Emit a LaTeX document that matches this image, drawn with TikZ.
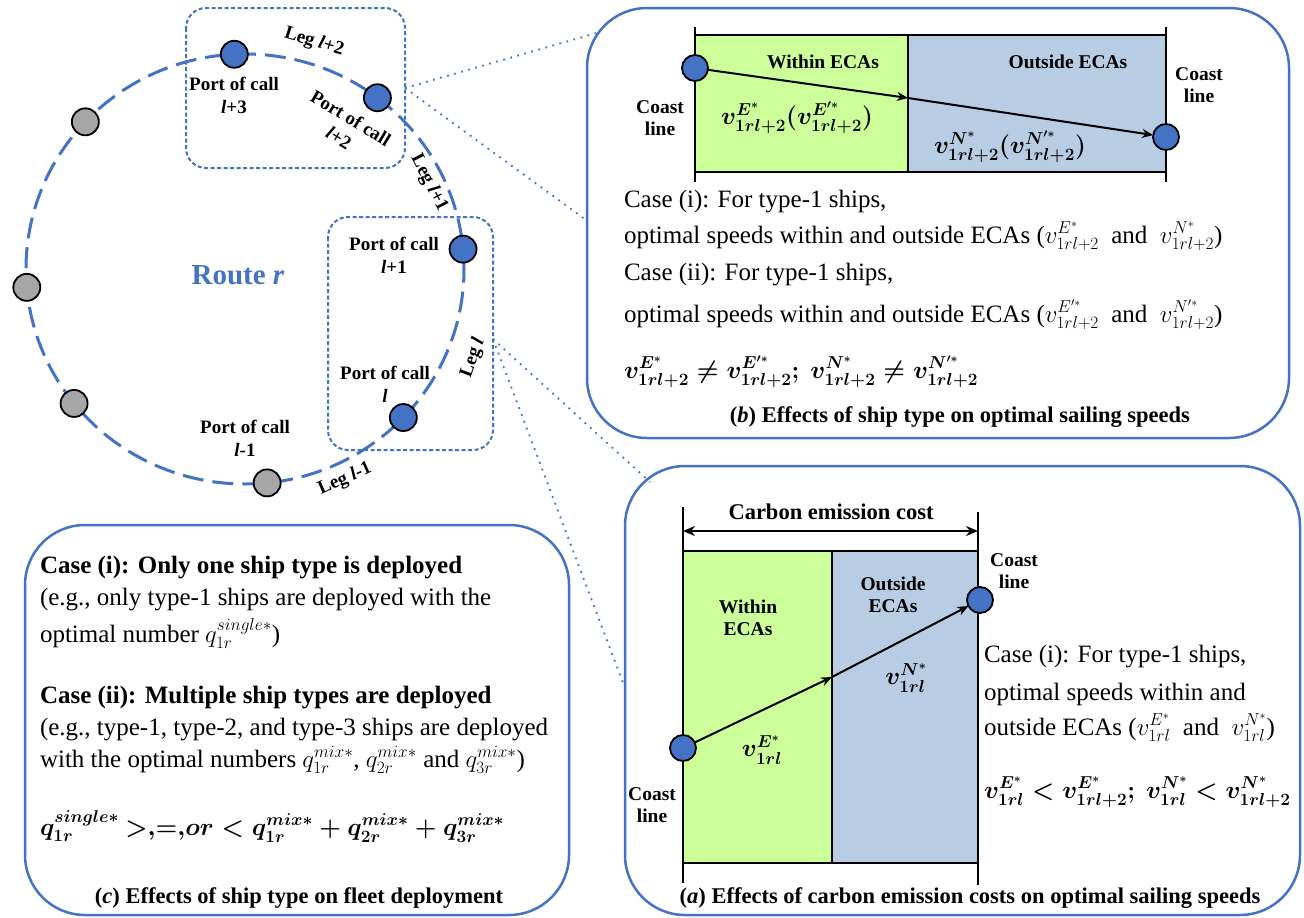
\documentclass[tikz,border=0pt]{standalone}
\usepackage{fontspec}
\setmainfont{Liberation Serif}
\usepackage{amsmath}
\usetikzlibrary{arrows.meta}

\definecolor{routeblue}{RGB}{68,114,196}
\definecolor{portgrey}{RGB}{166,166,166}
\definecolor{ecagreen}{RGB}{204,255,153}
\definecolor{ecablue}{RGB}{184,204,228}

\begin{document}
\begin{tikzpicture}[x=1pt,y=-1pt,
  every node/.style={inner sep=0pt,outer sep=0pt},
  routeline/.style={draw=routeblue,line width=3pt,dash pattern=on 21pt off 9pt},
  bluestop/.style={circle,draw=black,line width=1.8pt,fill=routeblue,minimum size=27pt},
  greystop/.style={bluestop,fill=portgrey},
  stoplbl/.style={font=\fontsize{19}{23}\selectfont\bfseries,align=center},
  routelbl/.style={font=\fontsize{29}{34}\selectfont\bfseries,text=routeblue},
  zoombox/.style={draw=routeblue,line width=2pt,dash pattern=on 4pt off 2.5pt,rounded corners=20pt},
  zoomlink/.style={draw=routeblue,line width=1.8pt,dash pattern=on 1.8pt off 5.5pt},
  panelbox/.style={draw=routeblue,line width=2.5pt,rounded corners=60pt},
  stripline/.style={draw=black,line width=2pt},
  coastpt/.style={circle,draw=black,line width=1.8pt,fill=routeblue,minimum size=26pt},
  flowarrow/.style={draw=black,line width=2pt,-{Stealth[length=11pt,width=9pt]}},
  spanarrow/.style={draw=black,line width=2pt,{Stealth[length=12pt,width=10pt]}-{Stealth[length=12pt,width=10pt]}},
  zonelbl/.style={font=\fontsize{19.5}{22}\selectfont\bfseries,align=center},
  costlbl/.style={font=\fontsize{22.5}{26}\selectfont\bfseries},
  bodytxt/.style={font=\fontsize{25}{30}\selectfont,anchor=base west},
  bodybold/.style={font=\fontsize{25}{30}\selectfont\bfseries,anchor=base west},
  captxt/.style={font=\fontsize{22.5}{27}\selectfont\bfseries,anchor=base},
  speedlbl/.style={font=\fontsize{25}{29}\selectfont}
]
\fill[white] (0,0) rectangle (1304,918);
\useasboundingbox (0,0) rectangle (1304,918);

% ---------------- route r with its ports of call ----------------
\draw[zoombox] (186,8) rectangle (405,168);
\draw[zoombox] (328,217) rectangle (493,450);

\draw[routeline] (245,269) ellipse [x radius=219pt, y radius=215pt];

\node[greystop] (g1) at ({245+219*cos(136.8)},{269-215*sin(136.8)}) {};
\node[greystop] (g2) at ({245+219*cos(184.9)},{269-215*sin(184.9)}) {};
\node[greystop] (g3) at ({245+219*cos(218.7)},{269-215*sin(218.7)}) {};
\node[greystop] (g4) at ({245+219*cos(-84.2)},{269-215*sin(-84.2)}) {};
\node[bluestop] (p0) at ({245+219*cos(-43.7)},{269-215*sin(-43.7)}) {};
\node[bluestop] (p1) at ({245+219*cos(5.3)},{269-215*sin(5.3)}) {};
\node[bluestop] (p2) at ({245+219*cos(52.8)},{269-215*sin(52.8)}) {};
\node[bluestop] (p3) at ({245+219*cos(92.8)},{269-215*sin(92.8)}) {};

\node[stoplbl] (lp3) at (234,95) {Port of call\\\textit{l}+3};
\node[stoplbl,rotate=-31] (lp2) at (345,128) {Port of call\\\textit{l}+2};
\node[stoplbl] (lp1) at (394,255) {Port of call\\\textit{l}+1};
\node[stoplbl] (lp0) at (385,384) {Port of call\\\textit{l}};
\node[stoplbl] (lpm) at (245,438) {Port of call\\\textit{l}-1};
\node[stoplbl,rotate=-17] (lg2) at (314,42) {Leg \textit{l}+2};
\node[stoplbl,rotate=-63] (lg1) at (429,183) {Leg \textit{l}+1};
\node[stoplbl,rotate=70] (lg0) at (473,358) {Leg \textit{l}};
\node[stoplbl,rotate=24] (lgm) at (345,479) {Leg \textit{l}-1};
\node[routelbl] (rt) at (238,275) {Route \textit{r}};

% ---------------- links from the legs to the panels ----------------
\coordinate (zA) at (405,88);
\coordinate (zB) at (493,339);
\coordinate (pB1) at (600,32);
\coordinate (pB2) at (586,220);
\coordinate (pA1) at (650,482);
\coordinate (pA2) at (625,688);
\draw[zoomlink] (zA) -- (pB1);
\draw[zoomlink] (zA) -- (pB2);
\draw[zoomlink] (zB) -- (pA1);
\draw[zoomlink] (zB) -- (pA2);

% ---------------- panel (b): ship type and sailing speeds ----------------
\draw[panelbox] (587,8) rectangle (1289,438);
\fill[ecagreen] (695,35) rectangle (908,172);
\fill[ecablue] (908,35) rectangle (1166,172);
\draw[stripline] (695,35) -- (1166,35);
\draw[stripline] (695,172) -- (1166,172);
\draw[stripline] (908,35) -- (908,172);
\draw[stripline] (695,27) -- (695,182);
\draw[stripline] (1166,27) -- (1166,182);
\coordinate (bM) at (908,98);
\node[coastpt] (bL) at (695,68) {};
\node[coastpt] (bR) at (1166,137) {};
\draw[flowarrow] (bL) -- (bM);
\draw[flowarrow] (bM) -- (bR);
\node[zonelbl] (bW) at (823,62) {Within ECAs};
\node[zonelbl] (bO) at (1068,62) {Outside ECAs};
\node[zonelbl] (bCL) at (660,118) {Coast\\line};
\node[zonelbl] (bCR) at (1199,85) {Coast\\line};
\node[speedlbl] (bvE) at (797,118) {{\boldmath $v^{E^*}_{1rl+2}(v^{E^{\prime *}}_{1rl+2})$}};
\node[speedlbl] (bvN) at (1010,147) {{\boldmath $v^{N^*}_{1rl+2}(v^{N^{\prime *}}_{1rl+2})$}};

\node[bodytxt] (bT1) at (624,207) {Case (i): For type-1 ships,};
\node[bodytxt] (bT2) at (624,243) {optimal speeds within and outside ECAs ($v^{E^*}_{1rl+2}$~ and~ $v^{N^*}_{1rl+2}$)};
\node[bodytxt] (bT3) at (624,280) {Case (ii): For type-1 ships,};
\node[bodytxt] (bT4) at (624,322) {optimal speeds within and outside ECAs ($v^{E^{\prime *}}_{1rl+2}$~ and~ $v^{N^{\prime *}}_{1rl+2}$)};
\node[bodytxt] (bT5) at (624,378) {{\boldmath $v^{E^*}_{1rl+2}\neq v^{E^{\prime *}}_{1rl+2};\ v^{N^*}_{1rl+2}\neq v^{N^{\prime *}}_{1rl+2}$}};
\node[captxt] (bCap) at (960,422) {(\textit{b}) Effects of ship type on optimal sailing speeds};

% ---------------- panel (a): carbon emission costs and sailing speeds ----------------
\draw[panelbox] (625,466) rectangle (1300,915);
\fill[ecagreen] (683,551) rectangle (832,863);
\fill[ecablue] (832,551) rectangle (978,863);
\draw[stripline] (683,551) -- (978,551);
\draw[stripline] (683,863) -- (978,863);
\draw[stripline] (832,551) -- (832,863);
\draw[stripline] (683,507) -- (683,883);
\draw[stripline] (978,512) -- (978,885);
\coordinate (aS1) at (683,531);
\coordinate (aS2) at (978,531);
\draw[spanarrow] (aS1) -- (aS2);
\node[costlbl] (aCost) at (831,512) {Carbon emission cost};
\coordinate (aM) at (832,677);
\node[coastpt] (aL) at (683,748) {};
\node[coastpt] (aR) at (980,600) {};
\draw[flowarrow] (aL) -- (aM);
\draw[flowarrow] (aM) -- (aR);
\node[zonelbl] (aW) at (748,618) {Within\\ECAs};
\node[zonelbl] (aO) at (893,595) {Outside\\ECAs};
\node[zonelbl] (aCR) at (1014,571) {Coast\\line};
\node[zonelbl] (aCL) at (652,805) {Coast\\line};
\node[speedlbl] (avN) at (906,678) {{\boldmath $v^{N^*}_{1rl}$}};
\node[speedlbl] (avE) at (762,750) {{\boldmath $v^{E^*}_{1rl}$}};

\node[bodytxt] (aT1) at (984,662) {Case (i): For type-1 ships,};
\node[bodytxt] (aT2) at (984,700) {optimal speeds within and};
\node[bodytxt] (aT3) at (984,735) {outside ECAs ($v^{E^*}_{1rl}$~ and~ $v^{N^*}_{1rl}$)};
\node[bodytxt] (aT4) at (984,798) {{\boldmath $v^{E^*}_{1rl}<v^{E^*}_{1rl+2};\ v^{N^*}_{1rl}<v^{N^*}_{1rl+2}$}};
\node[captxt] (aCap) at (970,903) {(\textit{a}) Effects of carbon emission costs on optimal sailing speeds};

% ---------------- panel (c): ship type and fleet deployment ----------------
\draw[panelbox] (25,525) rectangle (569,915);
\node[bodybold] (cT1) at (40,573) {Case (i): Only one ship type is deployed};
\node[bodytxt] (cT2) at (40,605) {(e.g., only type-1 ships are deployed with the};
\node[bodytxt] (cT3) at (40,642) {optimal number $q^{single*}_{1r}$)};
\node[bodybold] (cT4) at (40,703) {Case (ii): Multiple ship types are deployed};
\node[bodytxt] (cT5) at (40,735) {(e.g., type-1, type-2, and type-3 ships are deployed};
\node[bodytxt] (cT6) at (40,767) {with the optimal numbers $q^{mix*}_{1r}$, $q^{mix*}_{2r}$ and $q^{mix*}_{3r}$)};
\node[bodytxt] (cT7) at (40,835) {{\boldmath $q^{single*}_{1r}\ {>}{,}{=}{,}or<q^{mix*}_{1r}+q^{mix*}_{2r}+q^{mix*}_{3r}$}};
\node[captxt] (cCap) at (299,903) {(\textit{c}) Effects of ship type on fleet deployment};
\end{tikzpicture}
\end{document}
